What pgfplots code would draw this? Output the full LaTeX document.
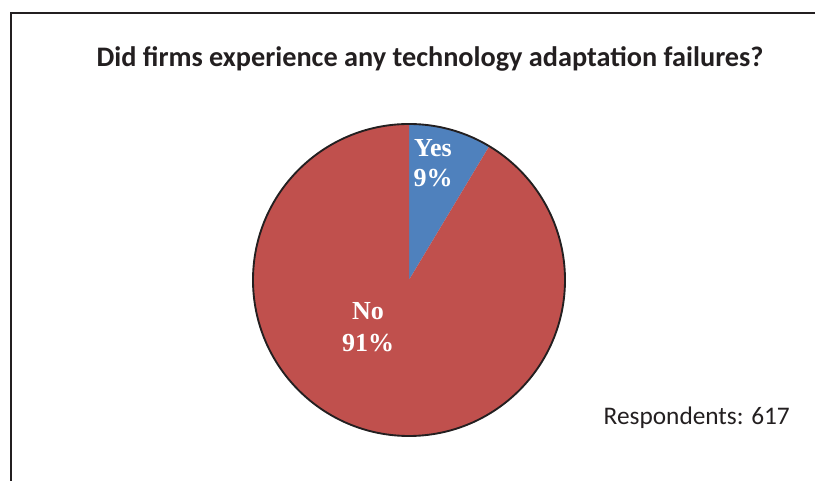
\documentclass[border=0pt]{standalone}
\usepackage{pgfplots}
\pgfplotsset{compat=1.18}
\usepackage{pgfplotstable}
\usepackage{fontspec}
\setmainfont{Carlito}
\newfontfamily\tnr{Liberation Serif}
\definecolor{pieRed}{HTML}{C0504D}
\definecolor{pieBlue}{HTML}{4F81BD}
\definecolor{frameGray}{HTML}{231F20}
\pgfplotstableread{
label value
Yes 8.6
No 91.4
}\piedata
\begin{document}
\begin{tikzpicture}[x=0.75pt,y=0.75pt]
\path[use as bounding box] (0,0) rectangle (815,481);
\draw[frameGray, line width=1.5pt] (10.5,-5) -- (10.5,467.5) -- (820,467.5);
\coordinate (pc) at (409,201);
\pgfplotstablegetelem{0}{value}\of\piedata
\pgfmathsetmacro{\yesend}{90-3.6*\pgfplotsretval}
\begin{axis}[at={(pc)}, anchor=center, hide axis, scale only axis,
  width=234pt, height=234pt, xmin=-1, xmax=1, ymin=-1, ymax=1, clip=false]
\fill[pieBlue] (axis cs:0,0) -- ++(90:117pt) arc[start angle=90, end angle=\yesend, radius=117pt] -- cycle;
\fill[pieRed] (axis cs:0,0) -- ++(\yesend:117pt) arc[start angle=\yesend, end angle=-270, radius=117pt] -- cycle;
\draw[frameGray, line width=1.4pt] (axis cs:0,0) circle[radius=117pt];
\end{axis}
\node[anchor=base, font=\bfseries\fontsize{21.2}{25}\selectfont, text=frameGray] at (430,414) {Did firms experience any technology adaptation failures?};
\node[align=center, font=\tnr\bfseries\fontsize{19.5}{22.5}\selectfont, text=white] at (433,318) {Yes\\9\%};
\node[align=center, font=\tnr\bfseries\fontsize{19.5}{23.5}\selectfont, text=white] at (368,154) {No\\91\%};
\node[anchor=base west, font=\fontsize{19}{23}\selectfont, text=frameGray] at (599,56) {Respondents: 617};
\end{tikzpicture}
\end{document}
